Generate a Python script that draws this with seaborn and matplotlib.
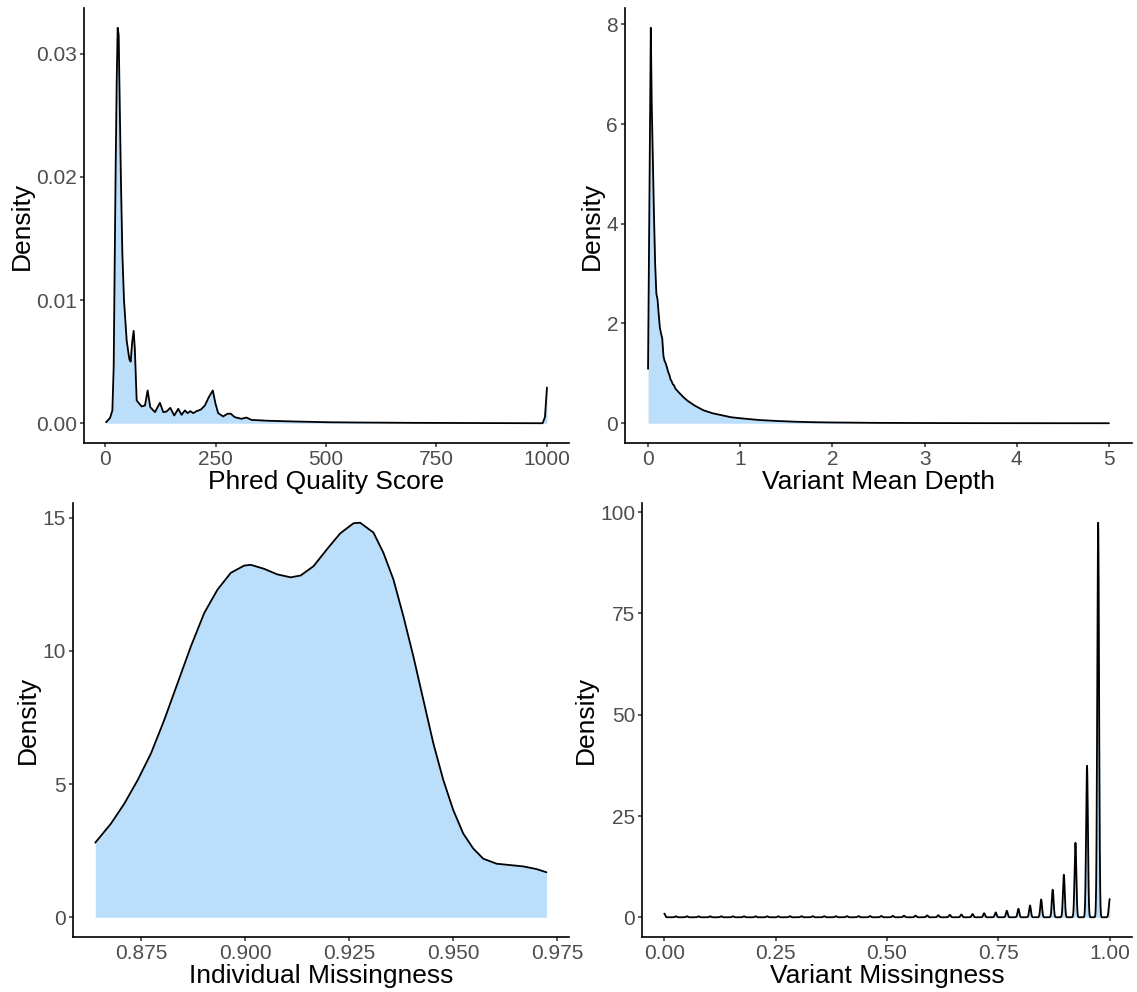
import numpy as np
import pandas as pd
import matplotlib
matplotlib.use("Agg")
import matplotlib.pyplot as plt
import seaborn as sns

# ---------------- data ----------------
# Phred quality score density curve
phred_x = [2.3, 11.3, 16.6, 19.6, 21.8, 24.1, 26.4, 28.6, 30.9, 33.1, 36.1, 39.2, 42.9,
           49.0, 55.0, 58.0, 61.5, 64.8, 67.5, 71.6, 82.9, 90.4, 96.4, 102.4, 113.0,
           124.2, 131.8, 139.3, 147.6, 156.6, 165.7, 173.2, 180.7, 186.7, 192.8, 199.6,
           207.1, 216.9, 225.9, 234.9, 243.9, 250.0, 256.0, 267.3, 277.1, 284.6, 293.6,
           308.7, 320.0, 331.4, 369.0, 429.2, 504.4, 564.7, 696.5, 990.2, 995.5, 1000.0]
phred_y = [0.00008, 0.00043, 0.00103, 0.0046, 0.0127, 0.0209, 0.0277, 0.0321, 0.0315,
           0.0263, 0.0195, 0.0138, 0.0100, 0.0067, 0.0052, 0.0050, 0.0066, 0.0075,
           0.0060, 0.00185, 0.00136, 0.00144, 0.00266, 0.0013, 0.0009, 0.00166, 0.0009,
           0.00095, 0.00125, 0.00063, 0.00117, 0.00068, 0.00104, 0.00082, 0.00098,
           0.00082, 0.00098, 0.00111, 0.00144, 0.00212, 0.00266, 0.00158, 0.00082,
           0.00055, 0.00077, 0.00077, 0.00049, 0.00036, 0.00046, 0.00027, 0.0002,
           0.00014, 0.00008, 0.00006, 0.00003, 0.0, 0.0005, 0.0029]

# Variant mean depth density curve
depth_x = [0.0, 0.03, 0.04, 0.051, 0.064, 0.077, 0.09, 0.103, 0.115, 0.128, 0.141, 0.154,
           0.167, 0.179, 0.192, 0.205, 0.218, 0.231, 0.244, 0.256, 0.269, 0.282, 0.295,
           0.308, 0.333, 0.359, 0.385, 0.41, 0.436, 0.462, 0.5, 0.55, 0.6, 0.7, 0.8, 0.9,
           1.0, 1.2, 1.4, 1.6, 1.8, 2.0, 2.5, 3.0, 3.5, 4.0, 5.0]
depth_y = [1.09, 7.93, 6.4, 5.4, 4.2, 3.2, 2.6, 2.48, 2.2, 1.92, 1.8, 1.7, 1.35, 1.25,
           1.2, 1.12, 1.03, 0.97, 0.88, 0.84, 0.78, 0.76, 0.70, 0.67, 0.62, 0.57, 0.52,
           0.48, 0.44, 0.41, 0.36, 0.31, 0.26, 0.20, 0.16, 0.12, 0.10, 0.065, 0.045,
           0.03, 0.02, 0.015, 0.007, 0.004, 0.002, 0.001, 0.0]

# Individual missingness density curve
imiss_x = [0.8640, 0.8678, 0.8710, 0.8742, 0.8774, 0.8806, 0.8838, 0.8870, 0.8902,
           0.8934, 0.8966, 0.8998, 0.9014, 0.9046, 0.9078, 0.9110, 0.9134, 0.9165,
           0.9197, 0.9229, 0.9261, 0.9277, 0.9309, 0.9333, 0.9357, 0.9381, 0.9405,
           0.9429, 0.9453, 0.9477, 0.9501, 0.9525, 0.9549, 0.9573, 0.9605, 0.9637,
           0.9669, 0.9701, 0.9725]
imiss_y = [2.80, 3.52, 4.27, 5.15, 6.15, 7.41, 8.79, 10.17, 11.42, 12.30, 12.93, 13.20,
           13.23, 13.08, 12.87, 12.76, 12.83, 13.18, 13.81, 14.41, 14.79, 14.81, 14.44,
           13.68, 12.68, 11.30, 9.79, 8.16, 6.53, 5.15, 4.02, 3.14, 2.58, 2.20, 2.01,
           1.96, 1.91, 1.81, 1.69]

# Variant missingness: discrete values and the heights of their density peaks
lmiss_x = [0.000, 0.026, 0.051, 0.077, 0.103, 0.128, 0.154, 0.179, 0.205, 0.231,
           0.256, 0.282, 0.308, 0.333, 0.359, 0.385, 0.410, 0.436, 0.462, 0.487,
           0.513, 0.538, 0.564, 0.590, 0.615, 0.641, 0.667, 0.692, 0.718, 0.744,
           0.769, 0.795, 0.821, 0.846, 0.872, 0.897, 0.923, 0.949, 0.974, 1.000]
lmiss_h = [0.9, 0.25, 0.25, 0.25, 0.25, 0.25, 0.25, 0.25, 0.25, 0.25,
           0.25, 0.27, 0.27, 0.27, 0.27, 0.27, 0.3, 0.3, 0.3, 0.32,
           0.35, 0.38, 0.42, 0.47, 0.52, 0.6, 0.68, 0.8, 1.0, 1.2,
           1.6, 2.1, 2.9, 4.4, 6.8, 10.5, 18.4, 37.4, 97.4, 4.5]

# tick labels
phred_ticks = [0, 250, 500, 750, 1000]
phred_yticks = [0.0, 0.01, 0.02, 0.03]
phred_ylabels = ["0.00", "0.01", "0.02", "0.03"]
depth_ticks = [0, 1, 2, 3, 4, 5]
depth_yticks = [0, 2, 4, 6, 8]
imiss_ticks = [0.875, 0.900, 0.925, 0.950, 0.975]
imiss_labels = ["0.875", "0.900", "0.925", "0.950", "0.975"]
imiss_yticks = [0, 5, 10, 15]
lmiss_ticks = [0.0, 0.25, 0.5, 0.75, 1.0]
lmiss_labels = ["0.00", "0.25", "0.50", "0.75", "1.00"]
lmiss_yticks = [0, 25, 50, 75, 100]

# ---------------- styling ----------------
sns.set_theme(style="white")
plt.rcParams["font.family"] = ["Liberation Sans", "DejaVu Sans"]

FILL = "#BBDEFB"
LINE_W = 1.3
TICK_COLOR = "#333333"
LABEL_COLOR = "#4D4D4D"

W, H = 1137, 992
fig = plt.figure(figsize=(W / 100, H / 100), dpi=100)


def make_ax(left, top, right, bottom):
    return fig.add_axes([left / W, 1 - bottom / H, (right - left) / W, (bottom - top) / H])


def style(ax, xticks, xlabels, yticks, ylabels, xlabel, xlim, ylim):
    ax.set_xlim(*xlim)
    ax.set_ylim(*ylim)
    ax.set_xticks(xticks)
    ax.set_xticklabels(xlabels)
    ax.set_yticks(yticks)
    ax.set_yticklabels(ylabels)
    for s in ["top", "right"]:
        ax.spines[s].set_visible(False)
    for s in ["left", "bottom"]:
        ax.spines[s].set_color("black")
        ax.spines[s].set_linewidth(1.2)
    ax.tick_params(axis="both", which="major", bottom=True, left=True, length=3,
                   width=1.1, color=TICK_COLOR, labelsize=15, labelcolor=LABEL_COLOR,
                   pad=2, direction="out")
    ax.set_xlabel(xlabel, fontsize=19, color="black", labelpad=1)
    ax.set_ylabel("Density", fontsize=19, color="black", labelpad=1.5)
    ax.grid(False)
    ax.set_facecolor("white")


def padded(lo, hi):
    p = 0.05 * (hi - lo)
    return (lo - p, hi + p)


def curve(ax, xs, ys):
    df = pd.DataFrame({"x": xs, "y": ys})
    ax.fill_between(df["x"], df["y"], 0, color=FILL, linewidth=0)
    sns.lineplot(data=df, x="x", y="y", ax=ax, color="black", linewidth=LINE_W,
                 estimator=None, sort=False)


# Top-left: Phred quality
ax1 = make_ax(84, 8, 569, 443)
curve(ax1, phred_x, phred_y)
style(ax1, phred_ticks, [str(t) for t in phred_ticks], phred_yticks, phred_ylabels,
      "Phred Quality Score", padded(min(phred_x), max(phred_x)), padded(0, max(phred_y)))

# Top-right: Variant mean depth
ax2 = make_ax(625, 8, 1132, 443)
curve(ax2, depth_x, depth_y)
style(ax2, depth_ticks, [str(t) for t in depth_ticks], depth_yticks,
      [str(t) for t in depth_yticks], "Variant Mean Depth",
      padded(min(depth_x), max(depth_x)), padded(0, max(depth_y)))

# Bottom-left: Individual missingness
ax3 = make_ax(72.7, 503, 569, 937)
curve(ax3, imiss_x, imiss_y)
style(ax3, imiss_ticks, imiss_labels, imiss_yticks, [str(t) for t in imiss_yticks],
      "Individual Missingness", padded(min(imiss_x), max(imiss_x)), padded(0, max(imiss_y)))

# Bottom-right: Variant missingness (weighted KDE of discrete values)
ax4 = make_ax(642, 503, 1132, 937)
xv = np.asarray(lmiss_x)
hv = np.asarray(lmiss_h)
w = hv / hv.sum()
mu = np.sum(w * xv)
wstd = np.sqrt(np.sum(w * (xv - mu) ** 2) / (1 - np.sum(w ** 2)))
sigma = 1.0 / (np.sqrt(2 * np.pi) * hv.sum())
factor = sigma / wstd
kde_df = pd.DataFrame({"x": lmiss_x, "w": lmiss_h})
sns.kdeplot(data=kde_df, x="x", weights="w", bw_method=factor, cut=0, gridsize=8000,
            fill=True, color=FILL, alpha=1, linewidth=0, ax=ax4)
sns.kdeplot(data=kde_df, x="x", weights="w", bw_method=factor, cut=0, gridsize=8000,
            color="black", linewidth=LINE_W, ax=ax4)
style(ax4, lmiss_ticks, lmiss_labels, lmiss_yticks, [str(t) for t in lmiss_yticks],
      "Variant Missingness", padded(0, 1), padded(0, max(lmiss_h)))

fig.savefig("out.png", dpi=100, facecolor="white")
